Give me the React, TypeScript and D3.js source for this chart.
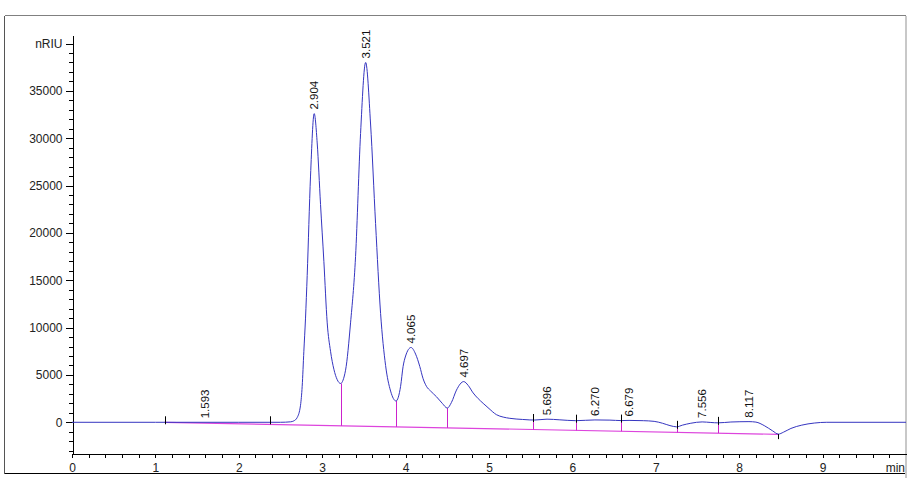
import React, { useRef, useEffect } from 'react';
import * as d3 from 'd3';

// retention time (min) and detector signal (nRIU)
const times = [
  0, 1.0, 2.0, 2.5, 2.62, 2.66, 2.7, 2.74, 2.76, 2.78, 2.8, 2.82, 2.86, 2.904, 2.94, 2.98,
  3.02, 3.06, 3.1, 3.14, 3.18, 3.22, 3.28, 3.34, 3.4, 3.46, 3.521, 3.58, 3.64, 3.7, 3.76,
  3.82, 3.885, 3.94, 3.97, 4.0, 4.065, 4.12, 4.17, 4.21, 4.25, 4.3, 4.37, 4.44, 4.5, 4.55,
  4.61, 4.697, 4.75, 4.81, 4.87, 4.93, 5.0, 5.09, 5.17, 5.25, 5.4, 5.49, 5.55, 5.696, 5.85,
  6.04, 6.27, 6.45, 6.585, 6.679, 6.85, 6.98, 7.08, 7.17, 7.25, 7.32, 7.42, 7.556, 7.66,
  7.745, 7.9, 8.117, 8.2, 8.3, 8.4, 8.47, 8.53, 8.62, 8.75, 8.9, 9.05, 10.0,
];
const signal = [
  0, 0, 0, 0, 50, 150, 500, 1800, 3800, 7500, 11000, 15500, 26000, 32600, 29500, 23000,
  17000, 10500, 7500, 5600, 4500, 4100, 5500, 10500, 17500, 30500, 38000, 31500, 21000, 11500, 6000,
  3300, 2250, 3800, 5900, 7000, 7900, 7200, 5900, 4600, 3800, 3300, 2700, 2000, 1500, 2100,
  3400, 4300, 3900, 3100, 2500, 2000, 1450, 800, 550, 420, 300, 250, 240, 330, 260,
  170, 250, 230, 180, 200, 170, 100, -100, -350, -480, -300, -100, 40, -20,
  -60, 30, 70, 20, -350, -900, -1250, -1050, -650, -300, -80, 0, 0,
];

const peakTimes = [1.593, 2.904, 3.521, 4.065, 4.697, 5.696, 6.27, 6.679, 7.556, 8.117];
const peakLabels = ['1.593', '2.904', '3.521', '4.065', '4.697', '5.696', '6.270', '6.679', '7.556', '8.117'];

// integration events
const dropTimes = [3.22, 3.885, 4.5, 5.53, 6.04, 6.585, 7.25, 7.745];
const markTimes = [1.11, 2.37, 5.53, 6.04, 6.585, 7.25, 7.745, 8.47];
const baselineTimes = [1.11, 8.47];
const baselineValues = [0, -1270];

const yTickValues = [0, 5000, 10000, 15000, 20000, 25000, 30000, 35000, 40000];
const xTickValues = [0, 1, 2, 3, 4, 5, 6, 7, 8, 9];

const signalAt = (t: number) => {
  const i = d3.bisectLeft(times, t);
  if (i <= 0) return signal[0];
  if (i >= times.length) return signal[signal.length - 1];
  const t0 = times[i - 1];
  const t1 = times[i];
  const k = (t - t0) / (t1 - t0);
  return signal[i - 1] + k * (signal[i] - signal[i - 1]);
};

const baselineAt = d3.scaleLinear().domain(baselineTimes).range(baselineValues);

export default function Chromatogram() {
  const ref = useRef<SVGSVGElement | null>(null);

  useEffect(() => {
    const width = 911;
    const height = 491;
    const svg = d3.select(ref.current);
    svg.selectAll('*').remove();
    svg.attr('width', width).attr('height', height);

    const x = d3.scaleLinear().domain([0, 10]).range([72, 906]);
    const y = d3.scaleLinear().domain([-3243, 40900]).range([453, 35]);
    const font = 'Liberation Sans, Arial, sans-serif';

    // frame
    const frame = svg.append('g').attr('shape-rendering', 'crispEdges');
    frame.append('line').attr('x1', 4.5).attr('x2', 905.5).attr('y1', 15.5).attr('y2', 15.5).attr('stroke', '#808080');
    frame.append('line').attr('x1', 4.5).attr('x2', 4.5).attr('y1', 15.5).attr('y2', 473.5).attr('stroke', '#555');
    frame.append('line').attr('x1', 4.5).attr('x2', 905.5).attr('y1', 473.5).attr('y2', 473.5).attr('stroke', '#000');
    frame.append('line').attr('x1', 905.5).attr('x2', 905.5).attr('y1', 15.5).attr('y2', 478).attr('stroke', '#c8c8c8').attr('stroke-width', 2);

    // y axis
    const yMinor = d3.range(-3000, 40001, 1000);
    svg.append('g')
      .attr('transform', 'translate(72.5,0)')
      .call(d3.axisLeft(y).tickValues(yMinor).tickSize(4).tickSizeOuter(0).tickFormat(() => ''))
      .call((g) => g.select('.domain').remove())
      .attr('shape-rendering', 'crispEdges');
    svg.append('g')
      .attr('transform', 'translate(72.5,0)')
      .call(
        d3.axisLeft(y)
          .tickValues(yTickValues)
          .tickSize(7)
          .tickSizeOuter(0)
          .tickPadding(3)
          .tickFormat((d) => (d === 40000 ? 'nRIU' : String(d)))
      )
      .attr('shape-rendering', 'crispEdges')
      .call((g) => g.selectAll('text').attr('font-family', font).attr('font-size', 12).attr('fill', '#222'));

    // x axis
    const xMinor = d3.range(0, 50).map((i) => i * 0.2);
    svg.append('g')
      .attr('transform', 'translate(0,453.5)')
      .call(d3.axisBottom(x).tickValues(xMinor).tickSize(4).tickSizeOuter(0).tickFormat(() => ''))
      .call((g) => g.select('.domain').remove())
      .attr('shape-rendering', 'crispEdges');
    svg.append('g')
      .attr('transform', 'translate(0,453.5)')
      .call(d3.axisBottom(x).tickValues(xTickValues).tickSize(4).tickSizeOuter(0).tickPadding(6).tickFormat(d3.format('d')))
      .attr('shape-rendering', 'crispEdges')
      .call((g) => g.selectAll('text').attr('font-family', font).attr('font-size', 12).attr('fill', '#222'));
    svg.append('text')
      .attr('x', 905)
      .attr('y', 472)
      .attr('text-anchor', 'end')
      .attr('font-family', font)
      .attr('font-size', 12)
      .attr('fill', '#222')
      .text('min');

    // integration baseline
    const baseLine = d3.line<number>()
      .x((t) => x(t))
      .y((t) => y(baselineAt(t)));
    svg.append('path')
      .attr('d', baseLine(baselineTimes))
      .attr('fill', 'none')
      .attr('stroke', '#dd44dd')
      .attr('stroke-width', 1.2);

    // drop lines
    svg.append('g')
      .selectAll('line')
      .data(dropTimes)
      .join('line')
      .attr('x1', (t) => Math.round(x(t)) + 0.5)
      .attr('x2', (t) => Math.round(x(t)) + 0.5)
      .attr('y1', (t) => y(signalAt(t)))
      .attr('y2', (t) => y(baselineAt(t)))
      .attr('stroke', '#cc22cc')
      .attr('stroke-width', 1);

    // signal trace
    const trace = d3.line<number>()
      .x((_, i) => x(times[i]))
      .y((d) => y(d))
      .curve(d3.curveMonotoneX);
    svg.append('path')
      .attr('d', trace(signal))
      .attr('fill', 'none')
      .attr('stroke', '#3535c0')
      .attr('stroke-width', 1)
      .attr('stroke-linejoin', 'round');

    // event marks
    svg.append('g')
      .selectAll('line')
      .data(markTimes)
      .join('line')
      .attr('x1', (t) => Math.round(x(t)) + 0.5)
      .attr('x2', (t) => Math.round(x(t)) + 0.5)
      .attr('y1', (t) => y(signalAt(t)) - (t === 8.47 ? 0 : 6))
      .attr('y2', (t) => y(signalAt(t)) + (t === 8.47 ? 5 : 2))
      .attr('stroke', '#000')
      .attr('stroke-width', 1);

    // peak labels
    svg.append('g')
      .selectAll('text')
      .data(peakTimes)
      .join('text')
      .attr('transform', (t) => `translate(${x(t)},${y(signalAt(t)) - 4}) rotate(-90)`)
      .attr('dy', '0.35em')
      .attr('font-family', font)
      .attr('font-size', 11.5)
      .attr('fill', '#111')
      .text((_, i) => peakLabels[i]);
  }, []);

  return (
    <svg ref={ref} style={{ position: 'absolute', left: 0, top: 0, background: '#fff' }} />
  );
}
